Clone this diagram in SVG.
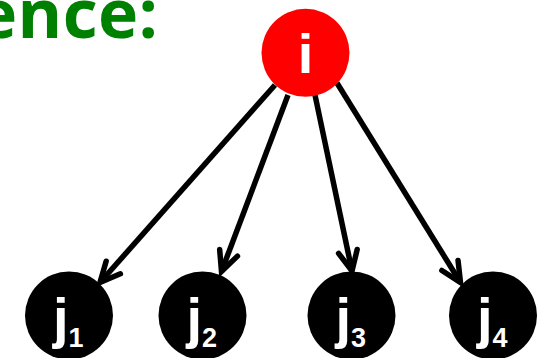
<svg xmlns="http://www.w3.org/2000/svg" width="548" height="358" viewBox="0 0 548 358">
<defs>
<marker id="arr" markerUnits="userSpaceOnUse" markerWidth="40" markerHeight="40" refX="0" refY="0" viewBox="-30 -20 40 40" orient="auto" overflow="visible">
<polyline points="-20,-9.5 0,0 -20,9.5" fill="none" stroke="#000" stroke-width="5.5" stroke-linejoin="miter" stroke-linecap="round"/>
</marker>
</defs>
<style>
.edge{fill:none;stroke:#000;stroke-width:5.5;marker-end:url(#arr)}
.lbl{font-family:"Liberation Sans",Arial,sans-serif;font-weight:bold;fill:#fff}
.title{font-family:"Open Sans","Noto Sans",sans-serif;font-weight:bold;fill:#008000;font-size:68px}
</style>
<rect width="548" height="358" fill="#fff"/>
<g id="title"><text class="title" x="-23" y="38" textLength="181" lengthAdjust="spacing">ence:</text></g>
<g id="connectors">
<line class="edge" x1="275" y1="85" x2="100" y2="282.5"/>
<line class="edge" x1="288" y1="95" x2="221.5" y2="271.5"/>
<line class="edge" x1="315" y1="95" x2="352" y2="271"/>
<line class="edge" x1="337" y1="83" x2="460.5" y2="282.5"/>
</g>
<g id="node-i"><circle cx="305.5" cy="52.8" r="44" fill="#ff0000"/><text class="lbl" x="305.5" y="73" font-size="56" text-anchor="middle">i</text></g>
<g id="node-j1"><circle cx="69" cy="315.5" r="44" fill="#000"/><text class="lbl" x="53" y="336.8" font-size="56">j<tspan font-size="27" dy="10">1</tspan></text></g>
<g id="node-j2"><circle cx="202.5" cy="315.5" r="44" fill="#000"/><text class="lbl" x="186.5" y="336.8" font-size="56">j<tspan font-size="27" dy="10">2</tspan></text></g>
<g id="node-j3"><circle cx="351.5" cy="315.5" r="44" fill="#000"/><text class="lbl" x="335.5" y="336.8" font-size="56">j<tspan font-size="27" dy="10">3</tspan></text></g>
<g id="node-j4"><circle cx="493" cy="315.5" r="44" fill="#000"/><text class="lbl" x="477" y="336.8" font-size="56">j<tspan font-size="27" dy="10">4</tspan></text></g>
</svg>
